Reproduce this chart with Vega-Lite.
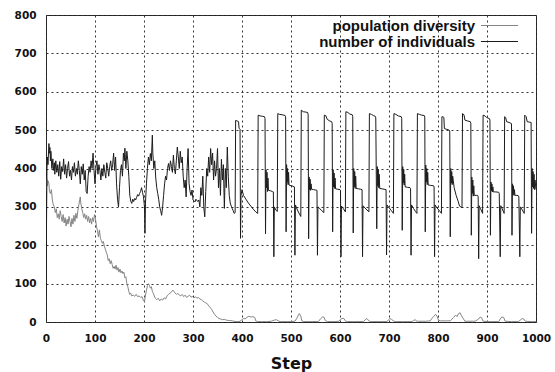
{
  "$schema": "https://vega.github.io/schema/vega-lite/v6.json",
  "width": 490,
  "height": 307,
  "autosize": {"type": "none"},
  "padding": {"left": 46, "top": 15, "right": 19, "bottom": 50},
  "background": "white",
  "config": {
    "view": {"stroke": "#222222", "strokeWidth": 1},
    "axis": {
      "labelFont": "DejaVu Sans",
      "labelFontSize": 10.5,
      "labelFontWeight": "bold",
      "labelColor": "#111111",
      "ticks": false,
      "tickSize": 0,
      "domain": false,
      "grid": true,
      "gridDash": [2, 3],
      "gridColor": "#333333",
      "gridOpacity": 1,
      "gridWidth": 1,
      "labelFlush": false,
      "labelOverlap": false
    },
    "legend": {
      "title": null,
      "orient": "none",
      "legendX": 446,
      "legendY": 3,
      "padding": 0,
      "symbolType": "M-4,0H4",
      "symbolSize": 86,
      "symbolStrokeWidth": 1,
      "labelAlign": "right",
      "labelOffset": -32,
      "labelFont": "Liberation Sans",
      "labelFontSize": 15,
      "labelFontWeight": "bold",
      "labelColor": "#111111",
      "labelLimit": 300,
      "rowPadding": -3
    }
  },
  "datasets": {
    "diversity": [
      {"step":0,"value":340},{"step":1,"value":365},{"step":2,"value":372},{"step":3,"value":355},{"step":4,"value":368},{"step":6,"value":360},{"step":7,"value":340},{"step":9,"value":335},{"step":11,"value":345},{"step":13,"value":318},{"step":15,"value":305},{"step":17,"value":300},{"step":19,"value":285},{"step":21,"value":295},{"step":23,"value":272},{"step":25,"value":282},{"step":27,"value":268},{"step":29,"value":290},{"step":31,"value":275},{"step":33,"value":262},{"step":35,"value":280},{"step":37,"value":258},{"step":39,"value":272},{"step":41,"value":250},{"step":43,"value":268},{"step":45,"value":255},{"step":47,"value":275},{"step":49,"value":262},{"step":51,"value":248},{"step":53,"value":270},{"step":55,"value":255},{"step":57,"value":278},{"step":59,"value":262},{"step":61,"value":283},{"step":63,"value":270},{"step":65,"value":290},{"step":67,"value":305},{"step":69,"value":320},{"step":70,"value":326},{"step":71,"value":310},{"step":73,"value":295},{"step":75,"value":285},{"step":77,"value":272},{"step":79,"value":282},{"step":81,"value":268},{"step":83,"value":278},{"step":85,"value":262},{"step":87,"value":275},{"step":89,"value":258},{"step":91,"value":270},{"step":93,"value":255},{"step":95,"value":272},{"step":97,"value":262},{"step":99,"value":280},{"step":101,"value":268},{"step":103,"value":250},{"step":105,"value":238},{"step":107,"value":222},{"step":109,"value":240},{"step":111,"value":218},{"step":113,"value":212},{"step":115,"value":205},{"step":117,"value":210},{"step":119,"value":198},{"step":121,"value":190},{"step":123,"value":182},{"step":125,"value":175},{"step":127,"value":160},{"step":129,"value":165},{"step":131,"value":152},{"step":133,"value":160},{"step":135,"value":150},{"step":137,"value":140},{"step":139,"value":145},{"step":141,"value":138},{"step":143,"value":148},{"step":145,"value":135},{"step":147,"value":142},{"step":149,"value":130},{"step":151,"value":138},{"step":153,"value":128},{"step":155,"value":133},{"step":157,"value":126},{"step":159,"value":130},{"step":161,"value":115},{"step":163,"value":118},{"step":165,"value":100},{"step":167,"value":92},{"step":169,"value":80},{"step":171,"value":72},{"step":173,"value":75},{"step":175,"value":68},{"step":178,"value":70},{"step":181,"value":67},{"step":184,"value":72},{"step":187,"value":66},{"step":190,"value":68},{"step":193,"value":64},{"step":196,"value":66},{"step":199,"value":55},{"step":201,"value":53},{"step":203,"value":70},{"step":205,"value":82},{"step":207,"value":95},{"step":209,"value":100},{"step":211,"value":96},{"step":213,"value":88},{"step":215,"value":92},{"step":217,"value":80},{"step":219,"value":75},{"step":221,"value":68},{"step":223,"value":62},{"step":226,"value":58},{"step":229,"value":62},{"step":232,"value":55},{"step":235,"value":60},{"step":238,"value":57},{"step":241,"value":63},{"step":244,"value":60},{"step":247,"value":68},{"step":250,"value":72},{"step":253,"value":75},{"step":256,"value":78},{"step":259,"value":83},{"step":261,"value":80},{"step":263,"value":76},{"step":266,"value":72},{"step":269,"value":75},{"step":272,"value":70},{"step":275,"value":68},{"step":278,"value":72},{"step":281,"value":66},{"step":284,"value":70},{"step":287,"value":64},{"step":290,"value":67},{"step":293,"value":70},{"step":296,"value":65},{"step":299,"value":66},{"step":302,"value":63},{"step":305,"value":66},{"step":308,"value":62},{"step":311,"value":64},{"step":314,"value":60},{"step":317,"value":58},{"step":320,"value":55},{"step":323,"value":52},{"step":326,"value":50},{"step":329,"value":48},{"step":332,"value":42},{"step":335,"value":38},{"step":338,"value":33},{"step":341,"value":26},{"step":344,"value":20},{"step":347,"value":15},{"step":350,"value":12},{"step":353,"value":9},{"step":356,"value":8},{"step":360,"value":6},{"step":364,"value":7},{"step":368,"value":5},{"step":372,"value":4},{"step":376,"value":4},{"step":380,"value":3},{"step":384,"value":2},{"step":388,"value":1},{"step":392,"value":1},{"step":396,"value":2},{"step":400,"value":6},{"step":403,"value":9},{"step":406,"value":8},{"step":410,"value":12},{"step":414,"value":15},{"step":418,"value":13},{"step":422,"value":14},{"step":426,"value":12},{"step":428,"value":3},{"step":432,"value":1},{"step":440,"value":1},{"step":450,"value":1},{"step":460,"value":2},{"step":466,"value":5},{"step":470,"value":6},{"step":474,"value":3},{"step":478,"value":1},{"step":490,"value":1},{"step":500,"value":1},{"step":508,"value":2},{"step":512,"value":10},{"step":515,"value":18},{"step":517,"value":22},{"step":520,"value":15},{"step":522,"value":3},{"step":526,"value":1},{"step":540,"value":1},{"step":556,"value":1},{"step":560,"value":8},{"step":564,"value":13},{"step":567,"value":13},{"step":570,"value":4},{"step":574,"value":1},{"step":590,"value":1},{"step":598,"value":2},{"step":601,"value":7},{"step":604,"value":9},{"step":608,"value":9},{"step":611,"value":3},{"step":614,"value":1},{"step":630,"value":1},{"step":648,"value":1},{"step":652,"value":7},{"step":655,"value":9},{"step":659,"value":3},{"step":662,"value":1},{"step":680,"value":1},{"step":696,"value":1},{"step":699,"value":6},{"step":702,"value":9},{"step":705,"value":7},{"step":709,"value":3},{"step":713,"value":1},{"step":730,"value":1},{"step":747,"value":1},{"step":750,"value":4},{"step":753,"value":6},{"step":757,"value":2},{"step":760,"value":2},{"step":775,"value":2},{"step":784,"value":3},{"step":788,"value":10},{"step":791,"value":14},{"step":795,"value":20},{"step":798,"value":15},{"step":801,"value":5},{"step":805,"value":3},{"step":815,"value":3},{"step":825,"value":3},{"step":832,"value":12},{"step":836,"value":18},{"step":839,"value":14},{"step":842,"value":22},{"step":845,"value":24},{"step":848,"value":16},{"step":852,"value":8},{"step":855,"value":2},{"step":870,"value":2},{"step":876,"value":2},{"step":883,"value":8},{"step":886,"value":13},{"step":889,"value":11},{"step":892,"value":2},{"step":905,"value":1},{"step":924,"value":1},{"step":927,"value":8},{"step":930,"value":13},{"step":934,"value":12},{"step":937,"value":2},{"step":950,"value":1},{"step":964,"value":1},{"step":968,"value":5},{"step":972,"value":9},{"step":975,"value":8},{"step":978,"value":2},{"step":990,"value":1},{"step":1000,"value":1}
    ],
    "individuals": [
      {"step":0,"value":75},{"step":1,"value":250},{"step":2,"value":400},{"step":3,"value":430},{"step":4,"value":410},{"step":6,"value":465},{"step":7,"value":440},{"step":8,"value":455},{"step":9,"value":420},{"step":10,"value":445},{"step":12,"value":400},{"step":14,"value":425},{"step":15,"value":395},{"step":17,"value":415},{"step":18,"value":385},{"step":20,"value":420},{"step":22,"value":390},{"step":24,"value":410},{"step":26,"value":380},{"step":28,"value":418},{"step":30,"value":372},{"step":32,"value":405},{"step":34,"value":392},{"step":36,"value":425},{"step":38,"value":385},{"step":40,"value":410},{"step":42,"value":375},{"step":44,"value":400},{"step":46,"value":418},{"step":48,"value":380},{"step":50,"value":395},{"step":52,"value":370},{"step":54,"value":405},{"step":56,"value":390},{"step":58,"value":415},{"step":60,"value":380},{"step":62,"value":400},{"step":64,"value":385},{"step":66,"value":420},{"step":68,"value":395},{"step":70,"value":360},{"step":72,"value":405},{"step":74,"value":385},{"step":76,"value":412},{"step":78,"value":370},{"step":80,"value":395},{"step":82,"value":340},{"step":84,"value":335},{"step":86,"value":380},{"step":88,"value":405},{"step":90,"value":390},{"step":92,"value":420},{"step":94,"value":400},{"step":96,"value":440},{"step":98,"value":395},{"step":100,"value":360},{"step":102,"value":405},{"step":104,"value":420},{"step":106,"value":385},{"step":108,"value":410},{"step":110,"value":395},{"step":112,"value":370},{"step":114,"value":400},{"step":116,"value":380},{"step":118,"value":410},{"step":120,"value":390},{"step":122,"value":375},{"step":124,"value":415},{"step":126,"value":400},{"step":128,"value":380},{"step":130,"value":405},{"step":132,"value":420},{"step":134,"value":395},{"step":136,"value":410},{"step":138,"value":440},{"step":140,"value":395},{"step":142,"value":430},{"step":144,"value":360},{"step":146,"value":320},{"step":148,"value":300},{"step":150,"value":350},{"step":152,"value":395},{"step":154,"value":410},{"step":156,"value":380},{"step":158,"value":440},{"step":160,"value":420},{"step":161,"value":453},{"step":163,"value":400},{"step":165,"value":445},{"step":167,"value":420},{"step":169,"value":380},{"step":171,"value":330},{"step":173,"value":315},{"step":175,"value":309},{"step":177,"value":320},{"step":179,"value":314},{"step":181,"value":322},{"step":183,"value":318},{"step":185,"value":325},{"step":187,"value":332},{"step":189,"value":328},{"step":191,"value":335},{"step":193,"value":340},{"step":195,"value":350},{"step":197,"value":338},{"step":199,"value":326},{"step":201,"value":300},{"step":202,"value":231},{"step":203,"value":310},{"step":205,"value":360},{"step":207,"value":400},{"step":209,"value":430},{"step":211,"value":410},{"step":213,"value":439},{"step":215,"value":420},{"step":217,"value":487},{"step":218,"value":440},{"step":220,"value":400},{"step":222,"value":420},{"step":224,"value":375},{"step":226,"value":350},{"step":228,"value":335},{"step":230,"value":320},{"step":232,"value":300},{"step":234,"value":290},{"step":236,"value":278},{"step":238,"value":300},{"step":240,"value":330},{"step":242,"value":360},{"step":244,"value":380},{"step":246,"value":370},{"step":248,"value":400},{"step":250,"value":413},{"step":252,"value":395},{"step":254,"value":420},{"step":256,"value":405},{"step":258,"value":390},{"step":260,"value":435},{"step":262,"value":400},{"step":264,"value":386},{"step":266,"value":420},{"step":268,"value":456},{"step":270,"value":430},{"step":272,"value":400},{"step":274,"value":445},{"step":276,"value":415},{"step":278,"value":430},{"step":280,"value":380},{"step":282,"value":350},{"step":284,"value":370},{"step":286,"value":326},{"step":288,"value":400},{"step":290,"value":452},{"step":292,"value":360},{"step":294,"value":340},{"step":296,"value":330},{"step":298,"value":344},{"step":300,"value":318},{"step":302,"value":316},{"step":304,"value":313},{"step":306,"value":320},{"step":308,"value":316},{"step":310,"value":314},{"step":312,"value":318},{"step":314,"value":300},{"step":316,"value":350},{"step":318,"value":330},{"step":320,"value":380},{"step":322,"value":300},{"step":324,"value":274},{"step":326,"value":340},{"step":328,"value":400},{"step":330,"value":380},{"step":332,"value":430},{"step":334,"value":390},{"step":336,"value":452},{"step":338,"value":410},{"step":340,"value":440},{"step":342,"value":370},{"step":344,"value":420},{"step":346,"value":380},{"step":348,"value":400},{"step":350,"value":452},{"step":352,"value":350},{"step":354,"value":400},{"step":356,"value":330},{"step":358,"value":424},{"step":360,"value":370},{"step":362,"value":410},{"step":364,"value":296},{"step":366,"value":400},{"step":368,"value":350},{"step":370,"value":456},{"step":372,"value":380},{"step":374,"value":330},{"step":376,"value":310},{"step":378,"value":302},{"step":380,"value":296},{"step":382,"value":290},{"step":384,"value":283},{"step":386,"value":285},
      {"step":387,"value":525},{"step":390,"value":524},{"step":393,"value":522},{"step":394,"value":505},{"step":396,"value":502},{"step":397,"value":218},{"step":398,"value":330},{"step":400,"value":345},{"step":403,"value":330},{"step":408,"value":320},{"step":413,"value":310},{"step":418,"value":302},{"step":423,"value":294},{"step":428,"value":287},{"step":432,"value":283},
      {"step":433,"value":539},{"step":437,"value":537},{"step":442,"value":536},{"step":446,"value":535},{"step":447,"value":530},{"step":448,"value":230},{"step":449,"value":396},{"step":450,"value":350},{"step":451,"value":390},{"step":452,"value":340},{"step":453,"value":375},{"step":454,"value":343},{"step":458,"value":342},{"step":462,"value":340},{"step":464,"value":339},{"step":465,"value":170},{"step":466,"value":300},{"step":469,"value":292},{"step":472,"value":288},
      {"step":473,"value":543},{"step":477,"value":541},{"step":482,"value":540},{"step":488,"value":538},{"step":489,"value":535},{"step":490,"value":235},{"step":491,"value":410},{"step":492,"value":365},{"step":493,"value":400},{"step":494,"value":358},{"step":495,"value":390},{"step":496,"value":357},{"step":500,"value":355},{"step":504,"value":354},{"step":507,"value":352},{"step":508,"value":174},{"step":509,"value":305},{"step":513,"value":292},{"step":517,"value":282},{"step":520,"value":275},
      {"step":521,"value":552},{"step":525,"value":548},{"step":530,"value":547},{"step":534,"value":546},{"step":535,"value":540},{"step":536,"value":217},{"step":537,"value":378},{"step":538,"value":345},{"step":539,"value":372},{"step":540,"value":343},{"step":541,"value":360},{"step":542,"value":346},{"step":546,"value":345},{"step":550,"value":344},{"step":553,"value":343},{"step":554,"value":174},{"step":555,"value":300},{"step":559,"value":295},{"step":563,"value":290},{"step":567,"value":285},
      {"step":568,"value":539},{"step":571,"value":538},{"step":574,"value":528},{"step":579,"value":524},{"step":583,"value":522},{"step":584,"value":518},{"step":585,"value":235},{"step":586,"value":396},{"step":587,"value":352},{"step":588,"value":388},{"step":589,"value":348},{"step":590,"value":375},{"step":591,"value":347},{"step":595,"value":346},{"step":600,"value":345},{"step":601,"value":342},{"step":602,"value":170},{"step":603,"value":302},{"step":607,"value":295},{"step":611,"value":287},
      {"step":612,"value":548},{"step":616,"value":546},{"step":620,"value":542},{"step":625,"value":540},{"step":626,"value":535},{"step":627,"value":232},{"step":628,"value":400},{"step":629,"value":352},{"step":630,"value":392},{"step":631,"value":348},{"step":632,"value":380},{"step":633,"value":348},{"step":638,"value":347},{"step":642,"value":346},{"step":645,"value":345},{"step":646,"value":170},{"step":647,"value":303},{"step":651,"value":297},{"step":655,"value":292},{"step":659,"value":287},
      {"step":660,"value":543},{"step":664,"value":541},{"step":668,"value":538},{"step":672,"value":536},{"step":673,"value":532},{"step":675,"value":243},{"step":676,"value":405},{"step":677,"value":355},{"step":678,"value":398},{"step":679,"value":350},{"step":680,"value":385},{"step":681,"value":348},{"step":686,"value":347},{"step":690,"value":346},{"step":694,"value":345},{"step":695,"value":175},{"step":696,"value":305},{"step":700,"value":298},{"step":705,"value":290},{"step":709,"value":283},
      {"step":710,"value":543},{"step":714,"value":541},{"step":719,"value":537},{"step":725,"value":535},{"step":726,"value":530},{"step":727,"value":239},{"step":728,"value":405},{"step":729,"value":362},{"step":730,"value":398},{"step":731,"value":357},{"step":732,"value":385},{"step":733,"value":352},{"step":738,"value":351},{"step":743,"value":350},{"step":744,"value":348},{"step":745,"value":174},{"step":746,"value":305},{"step":750,"value":296},{"step":754,"value":288},{"step":757,"value":283},
      {"step":758,"value":543},{"step":762,"value":541},{"step":767,"value":539},{"step":772,"value":538},{"step":773,"value":534},{"step":774,"value":235},{"step":775,"value":409},{"step":776,"value":365},{"step":777,"value":400},{"step":778,"value":358},{"step":779,"value":390},{"step":780,"value":357},{"step":785,"value":356},{"step":791,"value":355},{"step":792,"value":352},{"step":793,"value":170},{"step":794,"value":305},{"step":798,"value":297},{"step":803,"value":290},{"step":807,"value":283},
      {"step":808,"value":535},{"step":811,"value":534},{"step":812,"value":533},{"step":813,"value":504},{"step":818,"value":502},{"step":823,"value":500},{"step":824,"value":498},{"step":825,"value":222},{"step":826,"value":400},{"step":827,"value":362},{"step":828,"value":392},{"step":829,"value":358},{"step":830,"value":380},{"step":833,"value":350},{"step":837,"value":330},{"step":841,"value":315},{"step":844,"value":302},{"step":849,"value":298},
      {"step":850,"value":543},{"step":853,"value":540},{"step":855,"value":526},{"step":860,"value":524},{"step":866,"value":522},{"step":867,"value":518},{"step":868,"value":226},{"step":869,"value":378},{"step":870,"value":335},{"step":871,"value":370},{"step":872,"value":328},{"step":873,"value":355},{"step":874,"value":330},{"step":878,"value":330},{"step":881,"value":330},{"step":882,"value":326},{"step":883,"value":165},{"step":884,"value":303},{"step":887,"value":295},{"step":891,"value":283},
      {"step":892,"value":539},{"step":896,"value":537},{"step":899,"value":533},{"step":905,"value":530},{"step":906,"value":526},{"step":907,"value":226},{"step":908,"value":365},{"step":909,"value":342},{"step":910,"value":360},{"step":911,"value":339},{"step":912,"value":352},{"step":913,"value":339},{"step":918,"value":339},{"step":924,"value":338},{"step":925,"value":335},{"step":927,"value":170},{"step":928,"value":303},{"step":931,"value":295},{"step":935,"value":283},
      {"step":936,"value":535},{"step":938,"value":533},{"step":940,"value":522},{"step":945,"value":520},{"step":950,"value":517},{"step":951,"value":226},{"step":952,"value":360},{"step":953,"value":332},{"step":954,"value":355},{"step":955,"value":330},{"step":956,"value":345},{"step":957,"value":330},{"step":961,"value":330},{"step":964,"value":329},{"step":965,"value":326},{"step":967,"value":170},{"step":968,"value":300},{"step":972,"value":292},{"step":976,"value":283},
      {"step":977,"value":539},{"step":980,"value":535},{"step":982,"value":522},{"step":986,"value":521},{"step":990,"value":520},{"step":991,"value":231},{"step":992,"value":400},{"step":993,"value":352},{"step":994,"value":392},{"step":995,"value":348},{"step":996,"value":385},{"step":997,"value":345},{"step":998,"value":370},{"step":1000,"value":345}
    ]
  },
  "encoding": {
    "x": {
      "field": "step",
      "type": "quantitative",
      "scale": {"domain": [0, 1000], "nice": false, "zero": false},
      "axis": {
        "values": [0, 100, 200, 300, 400, 500, 600, 700, 800, 900, 1000],
        "format": "d",
        "title": "Step",
        "titleFont": "DejaVu Sans",
        "titleFontSize": 16,
        "titleFontWeight": "bold",
        "titleColor": "#111111",
        "titlePadding": 12,
        "labelFont": "DejaVu Sans",
        "labelFontSize": 10.5,
        "labelFontWeight": "bold",
        "labelPadding": 11
      }
    },
    "y": {
      "field": "value",
      "type": "quantitative",
      "scale": {"domain": [0, 800], "nice": false},
      "axis": {
        "values": [0, 100, 200, 300, 400, 500, 600, 700, 800],
        "format": "d",
        "title": null,
        "labelFont": "DejaVu Sans",
        "labelFontSize": 10.5,
        "labelFontWeight": "bold",
        "labelPadding": 10
      }
    }
  },
  "layer": [
    {
      "data": {"name": "diversity"},
      "mark": {"type": "line", "strokeWidth": 1, "clip": true},
      "encoding": {
        "color": {
          "datum": "population diversity",
          "type": "nominal",
          "scale": {"domain": ["population diversity", "number of individuals"], "range": ["#858585", "#1c1c1c"]},
          "legend": {}
        }
      }
    },
    {
      "data": {"name": "individuals"},
      "mark": {"type": "line", "strokeWidth": 1, "clip": true},
      "encoding": {
        "color": {"datum": "number of individuals", "type": "nominal"}
      }
    }
  ]
}
